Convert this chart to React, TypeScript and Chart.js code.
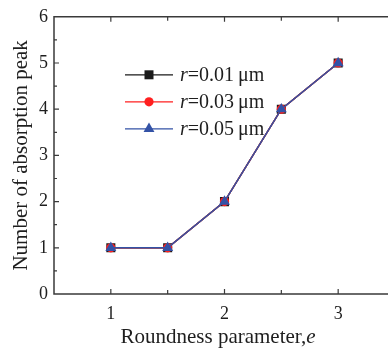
import React, { useEffect, useRef } from 'react';
import { Chart, registerables } from 'chart.js';

Chart.register(...registerables);

// ---- data ----
const roundness = [1, 1.5, 2, 2.5, 3];
const peaksR001 = [1, 1, 2, 4, 5];
const peaksR003 = [1, 1, 2, 4, 5];
const peaksR005 = [1, 1, 2, 4, 5];
const radiusLabels = ['0.01', '0.03', '0.05'];
const xAxisTitle = 'Roundness parameter,';
const xAxisTitleVar = 'e';
const yAxisTitle = 'Number of absorption peak';

const FONT = '"Liberation Serif", "Times New Roman", Times, serif';
const AXIS = '#3a3a3a';
const TEXT = '#1e1e1e';
const COLORS = ['#1a1a1a', '#ff1f1f', '#3352a6'];
const STYLES = ['rect', 'circle', 'triangle'];

function drawMarker(ctx: CanvasRenderingContext2D, style: string, x: number, y: number, color: string) {
  ctx.save();
  ctx.fillStyle = color;
  ctx.beginPath();
  if (style === 'rect') {
    ctx.rect(x - 4.5, y - 4.5, 9, 9);
  } else if (style === 'circle') {
    ctx.arc(x, y, 4.6, 0, Math.PI * 2);
  } else {
    const r = 6.3;
    ctx.moveTo(x, y - r);
    ctx.lineTo(x + r * 0.866, y + r * 0.5);
    ctx.lineTo(x - r * 0.866, y + r * 0.5);
    ctx.closePath();
  }
  ctx.fill();
  ctx.restore();
}

const framePlugin = {
  id: 'frame',
  beforeDatasetsDraw(chart: any) {
    const { ctx, chartArea } = chart;
    const { left, right, top, bottom } = chartArea;
    const xs = chart.scales.x;
    const ys = chart.scales.y;
    ctx.save();
    ctx.strokeStyle = AXIS;
    ctx.lineWidth = 1.5;
    ctx.beginPath();
    ctx.moveTo(left, top);
    ctx.lineTo(right, top);
    ctx.moveTo(left, top - 0.75);
    ctx.lineTo(left, bottom);
    ctx.lineTo(right, bottom);
    ctx.moveTo(right, top);
    ctx.lineTo(right, bottom);
    ctx.stroke();
    ctx.lineWidth = 1.2;
    ctx.beginPath();
    xs.ticks.forEach((t: any) => {
      const px = xs.getPixelForValue(t.value);
      if (px <= left + 1 || px >= right - 1) return;
      const len = Number.isInteger(t.value) ? 5 : 4;
      ctx.moveTo(px, bottom);
      ctx.lineTo(px, bottom - len);
      ctx.moveTo(px, top);
      ctx.lineTo(px, top + len);
    });
    ys.ticks.forEach((t: any) => {
      const py = ys.getPixelForValue(t.value);
      if (py <= top + 1 || py >= bottom - 1) return;
      const len = Number.isInteger(t.value) ? 5 : 3;
      ctx.moveTo(left, py);
      ctx.lineTo(left + len, py);
      ctx.moveTo(right, py);
      ctx.lineTo(right - len, py);
    });
    ctx.stroke();
    ctx.restore();
  },
  afterDraw(chart: any) {
    const { ctx, chartArea } = chart;
    const { left, top } = chartArea;
    ctx.save();
    // x axis title with italic variable
    const upright = `21px ${FONT}`;
    const italic = `italic 21px ${FONT}`;
    ctx.font = upright;
    const w1 = ctx.measureText(xAxisTitle).width;
    ctx.font = italic;
    const w2 = ctx.measureText(xAxisTitleVar).width;
    const cx = left + 164;
    const cy = 337;
    const sx = cx - (w1 + w2) / 2;
    ctx.fillStyle = TEXT;
    ctx.textBaseline = 'middle';
    ctx.textAlign = 'left';
    ctx.font = upright;
    ctx.fillText(xAxisTitle, sx, cy);
    ctx.font = italic;
    ctx.fillText(xAxisTitleVar, sx + w1, cy);

    // legend
    const lx0 = left + 71;
    const lx1 = left + 119;
    const tx = left + 126;
    chart.data.datasets.forEach((ds: any, i: number) => {
      const y = top + 58 + i * 27;
      ctx.strokeStyle = COLORS[i];
      ctx.lineWidth = 1.3;
      ctx.beginPath();
      ctx.moveTo(lx0, y);
      ctx.lineTo(lx1, y);
      ctx.stroke();
      drawMarker(ctx, STYLES[i], (lx0 + lx1) / 2, y, COLORS[i]);
      ctx.fillStyle = TEXT;
      ctx.font = `italic 20px ${FONT}`;
      ctx.fillText('r', tx, y + 1);
      const rw = ctx.measureText('r').width;
      ctx.font = `20px ${FONT}`;
      ctx.fillText(`=${radiusLabels[i]}\u2009\u03bcm`, tx + rw, y + 1);
    });
    ctx.restore();
  },
};

export default function App() {
  const ref = useRef<HTMLCanvasElement | null>(null);
  useEffect(() => {
    if (!ref.current) return;
    const series = [peaksR001, peaksR003, peaksR005];
    const chart = new Chart(ref.current, {
      type: 'line',
      data: {
        datasets: series.map((vals, i) => ({
          label: `r=${radiusLabels[i]} μm`,
          data: roundness.map((x, j) => ({ x, y: vals[j] })),
          borderColor: COLORS[i],
          backgroundColor: COLORS[i],
          borderWidth: 1.5,
          pointStyle: STYLES[i] as any,
          pointRadius: i === 0 ? 6.4 : i === 1 ? 4.6 : 6.3,
          pointBorderWidth: 0,
          tension: 0,
          order: 2 - i,
        })),
      },
      options: {
        animation: false,
        responsive: false,
        devicePixelRatio: 1,
        layout: { padding: { top: 15, right: 25, left: 0, bottom: 0 } },
        plugins: { legend: { display: false }, tooltip: { enabled: false } },
        scales: {
          x: {
            type: 'linear',
            min: 0.5,
            max: 3.5,
            grid: { display: false, drawTicks: false, tickLength: 0 },
            border: { display: false },
            ticks: {
              stepSize: 0.5,
              autoSkip: false,
              maxRotation: 0,
              padding: 9,
              color: TEXT,
              font: { family: FONT, size: 18 },
              callback: (v: any) => (Number.isInteger(v) && v > 0.5 && v < 3.5 ? String(v) : ''),
            },
            afterFit: (s: any) => { s.height = 58; },
          },
          y: {
            type: 'linear',
            min: 0,
            max: 6,
            grid: { display: false, drawTicks: false, tickLength: 0 },
            border: { display: false },
            title: {
              display: true,
              text: yAxisTitle,
              color: TEXT,
              font: { family: FONT, size: 21 },
              padding: { top: 9, bottom: 0 },
            },
            ticks: {
              stepSize: 0.5,
              autoSkip: false,
              padding: 6,
              color: TEXT,
              font: { family: FONT, size: 18 },
              callback: (v: any) => (Number.isInteger(v) ? String(v) : ''),
            },
            afterFit: (s: any) => { s.width = 54; },
          },
        },
      },
      plugins: [framePlugin],
    });
    return () => chart.destroy();
  }, []);

  return (
    <div style={{ position: 'absolute', left: 0, top: 0, width: 388, height: 352, overflow: 'hidden', background: '#fff' }}>
      <canvas ref={ref} width={420} height={352} style={{ width: 420, height: 352, display: 'block' }} />
    </div>
  );
}
